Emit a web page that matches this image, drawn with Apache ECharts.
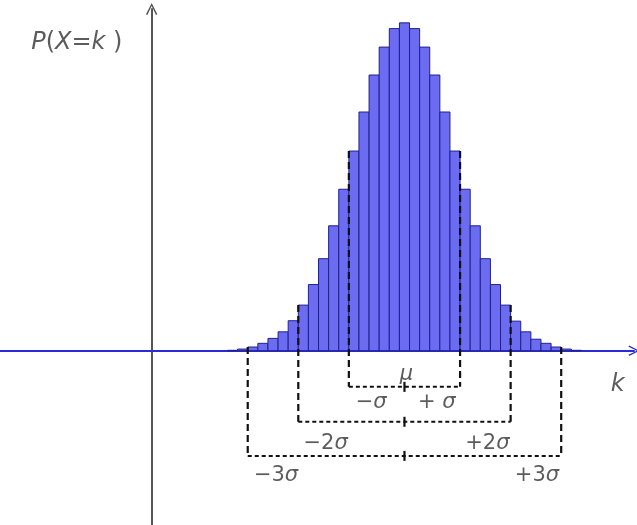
<!DOCTYPE html>
<html>
<head>
<meta charset="utf-8">
<script src="https://cdn.jsdelivr.net/npm/echarts@6/dist/echarts.min.js"></script>
<style>html,body{margin:0;padding:0;background:#fff}#c{width:637px;height:525px}</style>
</head>
<body>
<div id="c"></div>
<script>
// k values (bar centres) and probabilities P(X=k)
const kValues = [8,9,10,11,12,13,14,15,16,17,18,19,20,21,22,23,24,25,26,27,28,29,30,31,32,33,34,35,36,37,38,39,40,41,42];
const probs = [0.0001,0.0004,0.0009,0.0018,0.0030,0.0046,0.0073,0.0111,0.0161,0.0224,0.0304,0.0393,0.0486,0.0581,0.0671,0.0739,0.0784,0.0798,
               0.0784,0.0739,0.0671,0.0581,0.0486,0.0393,0.0304,0.0224,0.0161,0.0111,0.0072,0.0046,0.0028,0.0018,0.0009,0.0004,0.0001];
const mu = 25;
const sigma = 5;
const sigmaMultiples = [1, 2, 3];
const bracketDepth = [-0.0088, -0.0173, -0.0256];
// annotation labels: text and anchor (k, P)
const annoText = ['μ', '−σ', '+σ', '−2σ', '+2σ', '−3σ', '+3σ', 'k', 'P(X=k)'];
const annoX = [25.2, 21.7, 28.2, 17.2, 33.2, 12.3, 38.1, 46.1, -7.4];
const annoY = [-0.0059, -0.0125, -0.0125, -0.0226, -0.0226, -0.0305, -0.0305, -0.0084, 0.0749];

const barData = kValues.map((k, i) => [k, probs[i]]);
const valAt = k => probs[kValues.indexOf(k)] || 0;

const richFmt = {
  '−σ': '{n|−}{i|σ}', '+σ': '{n|+ }{i|σ}', '−2σ': '{n|−2}{i|σ}', '+2σ': '{n|+2}{i|σ}',
  '−3σ': '{n|−3}{i|σ}', '+3σ': '{n|+3}{i|σ}', 'μ': '{i|μ}', 'k': '{k|k}',
  'P(X=k)': '{p|P}{q|(}{p|X}{q|=}{p|k}{q| )}'
};

const chevron = 'path://M0,10 L5,0 L10,10 L8.8,10.6 L5,2.6 L1.2,10.6 Z';

const chart = echarts.init(document.getElementById('c'), null, {renderer: 'canvas'});
chart.setOption({
  animation: false,
  backgroundColor: '#ffffff',
  grid: {left: 0, right: 3, top: 9, bottom: 0, containLabel: false},
  xAxis: {
    type: 'value', min: -15, max: 47.7,
    axisLine: {onZero: true, lineStyle: {color: '#2a2ad6', width: 2}, symbol: ['none', chevron], symbolSize: [11, 11]},
    axisTick: {show: false}, axisLabel: {show: false}, splitLine: {show: false}
  },
  yAxis: {
    type: 'value', min: -0.04242, max: 0.08317,
    axisLine: {onZero: true, lineStyle: {color: '#555555', width: 2}, symbol: ['none', chevron], symbolSize: [12, 12]},
    axisTick: {show: false}, axisLabel: {show: false}, splitLine: {show: false}
  },
  series: [
    {
      type: 'custom',
      z: 3,
      data: barData,
      renderItem: function (params, api) {
        const k = api.value(0), v = api.value(1);
        const p1 = api.coord([k - 0.5, v]);
        const p2 = api.coord([k + 0.5, 0]);
        return {
          type: 'rect',
          shape: {x: p1[0], y: p1[1], width: p2[0] - p1[0], height: p2[1] - p1[1]},
          style: {fill: '#6c6cf3', stroke: '#20208a', lineWidth: 1}
        };
      }
    },
    {
      type: 'custom',
      z: 4,
      clip: false,
      data: sigmaMultiples.map((m, i) => [m, bracketDepth[i]]),
      renderItem: function (params, api) {
        const m = api.value(0), depth = api.value(1);
        const left = mu - m * sigma - 0.5, right = mu + m * sigma + 0.5;
        const tL = valAt(mu - m * sigma), tR = valAt(mu + m * sigma);
        const a = api.coord([left, tL]), b = api.coord([left, depth]);
        const c = api.coord([right, depth]), d = api.coord([right, tR]);
        const t = api.coord([mu, depth]);
        const vStyle = {stroke: '#111', lineWidth: 2.2, lineDash: [7, 4], fill: null};
        const hStyle = {stroke: '#111', lineWidth: 2, lineDash: [4, 3], fill: null};
        return {
          type: 'group',
          children: [
            {type: 'line', shape: {x1: a[0], y1: a[1], x2: b[0], y2: b[1]}, style: vStyle},
            {type: 'line', shape: {x1: d[0], y1: d[1], x2: c[0], y2: c[1]}, style: vStyle},
            {type: 'line', shape: {x1: b[0], y1: b[1], x2: c[0], y2: c[1]}, style: hStyle},
            {type: 'line', shape: {x1: t[0], y1: t[1] - 5, x2: t[0], y2: t[1] + 5}, style: {stroke: '#111', lineWidth: 2.2}}
          ]
        };
      }
    },
    {
      type: 'scatter',
      z: 5,
      symbolSize: 0,
      silent: true,
      data: annoText.map((s, i) => [annoX[i], annoY[i], s]),
      label: {
        show: true, position: 'inside',
        formatter: p => richFmt[p.data[2]],
        rich: {
          n: {fontFamily: 'DejaVu Sans', fontSize: 21, color: '#333'},
          i: {fontFamily: 'DejaVu Sans', fontSize: 21, fontStyle: 'italic', color: '#333'},
          k: {fontFamily: 'DejaVu Sans', fontSize: 24, fontStyle: 'italic', color: '#333'},
          p: {fontFamily: 'DejaVu Sans', fontSize: 24, fontStyle: 'italic', color: '#333'},
          q: {fontFamily: 'DejaVu Sans', fontSize: 24, color: '#333'}
        }
      }
    }
  ]
});
</script>
</body>
</html>
